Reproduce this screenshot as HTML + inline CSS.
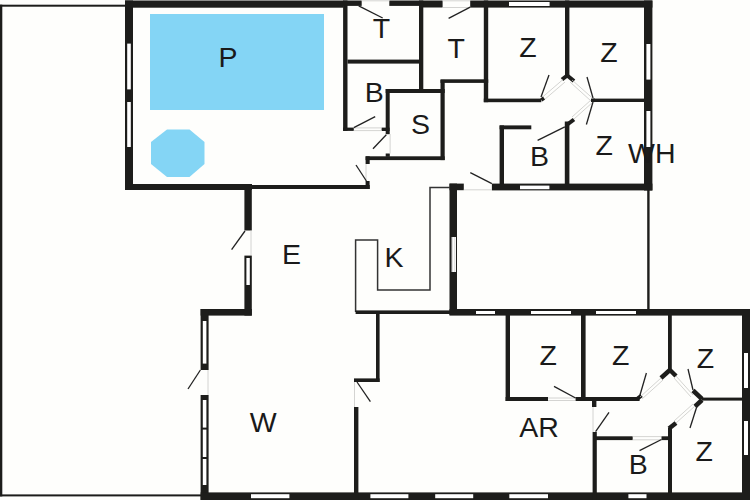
<!DOCTYPE html>
<html><head><meta charset="utf-8"><style>
html,body{margin:0;padding:0;background:#fefefc;}
body{width:750px;height:500px;overflow:hidden;}
svg{display:block;}
text{font-family:"Liberation Sans",sans-serif;fill:#1a1a1a;}
</style></head><body>
<svg width="750" height="500" viewBox="0 0 750 500">
<rect x="0" y="0" width="750" height="500" fill="#fefefc"/>
<rect x="0" y="4.7" width="125" height="2" fill="#1d1d1b"/>
<rect x="0" y="4.7" width="2.3" height="491.7" fill="#1d1d1b"/>
<rect x="0" y="494.4" width="201" height="2" fill="#1d1d1b"/>
<rect x="150" y="14" width="174" height="96" fill="#84d5f5"/>
<polygon points="167,129.6 189.5,129.6 204.5,142 204.5,164 189.5,177 167,177 151,164 151,142" fill="#84d5f5"/>
<rect x="125" y="0.5" width="218.6" height="7.2" fill="#1d1d1b"/>
<rect x="125" y="0.5" width="8" height="189.5" fill="#1d1d1b"/>
<rect x="127.2" y="43.6" width="3.6" height="45.8" fill="#fff"/>
<rect x="127.2" y="102" width="3.6" height="45" fill="#fff"/>
<rect x="125" y="184" width="127" height="6" fill="#1d1d1b"/>
<rect x="252" y="185" width="117.7" height="4" fill="#1d1d1b"/>
<rect x="343.1" y="0.5" width="4.4" height="130.4" fill="#1d1d1b"/>
<rect x="343.1" y="0.5" width="18.6" height="5.4" fill="#1d1d1b"/>
<rect x="389.3" y="0.5" width="31.7" height="5.4" fill="#1d1d1b"/>
<rect x="421" y="0.5" width="21.6" height="7" fill="#1d1d1b"/>
<rect x="419" y="0.5" width="4.3" height="92.5" fill="#1d1d1b"/>
<rect x="347.5" y="59.6" width="71.5" height="4" fill="#1d1d1b"/>
<rect x="343.1" y="127.6" width="10.7" height="3.3" fill="#1d1d1b"/>
<rect x="381.6" y="127.6" width="8" height="3.4" fill="#1d1d1b"/>
<rect x="385.7" y="89" width="4" height="45.2" fill="#1d1d1b"/>
<rect x="385.7" y="89" width="59" height="4" fill="#1d1d1b"/>
<rect x="440.5" y="79.9" width="4.2" height="80.2" fill="#1d1d1b"/>
<rect x="440.5" y="79.3" width="47.7" height="3.6" fill="#1d1d1b"/>
<rect x="385.7" y="153.5" width="4.1" height="3.3" fill="#1d1d1b"/>
<rect x="365.6" y="156.3" width="79.1" height="3.8" fill="#1d1d1b"/>
<rect x="365.6" y="156.3" width="4.1" height="7.7" fill="#1d1d1b"/>
<rect x="365.6" y="181" width="4" height="8" fill="#1d1d1b"/>
<line x1="361.7" y1="0.8" x2="389.3" y2="0.8" stroke="#c9c9c6" stroke-width="0.8"/>
<line x1="442.6" y1="0.8" x2="470.2" y2="0.8" stroke="#c9c9c6" stroke-width="0.8"/>
<line x1="442.6" y1="7.5" x2="470.2" y2="7.5" stroke="#c9c9c6" stroke-width="0.8"/>
<line x1="353.8" y1="127.9" x2="381.6" y2="127.9" stroke="#c9c9c6" stroke-width="0.8"/>
<line x1="353.8" y1="130.6" x2="381.6" y2="130.6" stroke="#c9c9c6" stroke-width="0.8"/>
<line x1="390.1" y1="134" x2="390.1" y2="153.5" stroke="#c9c9c6" stroke-width="0.8"/>
<line x1="366" y1="164" x2="366" y2="181" stroke="#c9c9c6" stroke-width="0.8"/>
<line x1="358.7" y1="5.9" x2="382.7" y2="18" stroke="#222" stroke-width="1.3"/>
<line x1="470.2" y1="7.2" x2="448.6" y2="18.4" stroke="#222" stroke-width="1.3"/>
<line x1="353.8" y1="127.6" x2="375.2" y2="116.6" stroke="#222" stroke-width="1.3"/>
<line x1="386.3" y1="134.8" x2="373" y2="148.8" stroke="#222" stroke-width="1.3"/>
<line x1="366.4" y1="181" x2="356" y2="165" stroke="#222" stroke-width="1.3"/>
<rect x="470.2" y="0.5" width="182.2" height="7.1" fill="#1d1d1b"/>
<rect x="509" y="2" width="40.6" height="4" fill="#fff"/>
<rect x="483.8" y="0.5" width="4.4" height="101.7" fill="#1d1d1b"/>
<rect x="483.8" y="98.6" width="57.5" height="3.6" fill="#1d1d1b"/>
<rect x="565" y="0.5" width="4.4" height="76" fill="#1d1d1b"/>
<rect x="593" y="98.6" width="51" height="3.4" fill="#1d1d1b"/>
<rect x="644" y="0.5" width="8.4" height="190" fill="#1d1d1b"/>
<rect x="646.4" y="44" width="4" height="35.6" fill="#fff"/>
<rect x="646.4" y="111" width="4" height="36" fill="#fff"/>
<line x1="562" y1="79.5" x2="567.2" y2="75.5" stroke="#1d1d1b" stroke-width="4"/>
<line x1="567.2" y1="75.5" x2="574" y2="81" stroke="#1d1d1b" stroke-width="4"/>
<line x1="542" y1="97.5" x2="563" y2="79.5" stroke="#c9c9c6" stroke-width="0.8"/>
<line x1="544" y1="100" x2="565" y2="82" stroke="#c9c9c6" stroke-width="0.8"/>
<line x1="572" y1="80" x2="593" y2="98.6" stroke="#c9c9c6" stroke-width="0.8"/>
<line x1="570" y1="82" x2="591" y2="101" stroke="#c9c9c6" stroke-width="0.8"/>
<line x1="541.3" y1="100" x2="544" y2="98" stroke="#1d1d1b" stroke-width="3.5"/>
<line x1="591" y1="100.3" x2="595" y2="100.3" stroke="#1d1d1b" stroke-width="3.5"/>
<line x1="593" y1="102" x2="574" y2="119" stroke="#c9c9c6" stroke-width="0.8"/>
<line x1="591" y1="100" x2="572" y2="117" stroke="#c9c9c6" stroke-width="0.8"/>
<line x1="574" y1="119.5" x2="566" y2="125.5" stroke="#1d1d1b" stroke-width="4"/>
<line x1="541" y1="97" x2="549" y2="75" stroke="#222" stroke-width="1.3"/>
<line x1="593" y1="98" x2="587" y2="77" stroke="#222" stroke-width="1.3"/>
<line x1="593" y1="102" x2="586.4" y2="124.5" stroke="#222" stroke-width="1.3"/>
<line x1="537.6" y1="140.4" x2="564.8" y2="126.8" stroke="#222" stroke-width="1.3"/>
<rect x="499.6" y="125.4" width="31.7" height="3.9" fill="#1d1d1b"/>
<rect x="499.6" y="125.4" width="4.4" height="58.6" fill="#1d1d1b"/>
<rect x="564.8" y="121.5" width="4.6" height="62.5" fill="#1d1d1b"/>
<rect x="449.5" y="183.6" width="14.3" height="6.6" fill="#1d1d1b"/>
<rect x="491.9" y="183.6" width="160.5" height="6.8" fill="#1d1d1b"/>
<rect x="520" y="185.6" width="29.4" height="3.6" fill="#fff"/>
<line x1="470.3" y1="172.7" x2="491.9" y2="183.6" stroke="#222" stroke-width="1.3"/>
<line x1="463.8" y1="189.8" x2="491.9" y2="189.8" stroke="#c9c9c6" stroke-width="0.8"/>
<rect x="647.2" y="190" width="2.4" height="119" fill="#1d1d1b"/>
<rect x="449.5" y="183.6" width="7.5" height="131.4" fill="#1d1d1b"/>
<rect x="451.6" y="237" width="4.4" height="35" fill="#fff"/>
<line x1="452.6" y1="237" x2="452.6" y2="272" stroke="#c9c9c6" stroke-width="0.7"/>
<line x1="454.8" y1="237" x2="454.8" y2="272" stroke="#c9c9c6" stroke-width="0.7"/>
<polyline points="450,187.4 430,187.4 430,290 377.6,290 377.6,240 355.6,240 355.6,312" fill="none" stroke="#333" stroke-width="1.5"/>
<rect x="355.6" y="310.4" width="94.4" height="3.6" fill="#1d1d1b"/>
<rect x="244.4" y="190" width="7.4" height="40.5" fill="#1d1d1b"/>
<line x1="251" y1="230.5" x2="251" y2="255.6" stroke="#c9c9c6" stroke-width="0.8"/>
<line x1="245" y1="231" x2="231.6" y2="249.6" stroke="#222" stroke-width="1.3"/>
<rect x="244.4" y="255.6" width="7.4" height="60" fill="#1d1d1b"/>
<rect x="246.4" y="258" width="3.4" height="27" fill="#fff"/>
<rect x="200.6" y="309" width="51.2" height="6.6" fill="#1d1d1b"/>
<rect x="200.6" y="309" width="8" height="61" fill="#1d1d1b"/>
<rect x="202.8" y="321" width="3.6" height="42.6" fill="#fff"/>
<line x1="208" y1="370" x2="208" y2="395" stroke="#c9c9c6" stroke-width="0.8"/>
<line x1="200.4" y1="370" x2="188" y2="389" stroke="#222" stroke-width="1.3"/>
<rect x="200.6" y="395" width="8" height="105" fill="#1d1d1b"/>
<rect x="202.8" y="400" width="3.6" height="27.6" fill="#fff"/>
<rect x="202.8" y="429.6" width="3.6" height="27.4" fill="#fff"/>
<rect x="202.8" y="459" width="3.6" height="26" fill="#fff"/>
<rect x="200.6" y="492.4" width="549.4" height="7.6" fill="#1d1d1b"/>
<rect x="251" y="494.2" width="38.4" height="4" fill="#fff"/>
<rect x="370.4" y="494.2" width="38" height="4" fill="#fff"/>
<rect x="435.2" y="494.2" width="38" height="4" fill="#fff"/>
<rect x="509.3" y="494.2" width="38.7" height="4" fill="#fff"/>
<rect x="628.4" y="494.2" width="18.1" height="4" fill="#fff"/>
<rect x="376" y="314" width="3.6" height="68" fill="#1d1d1b"/>
<rect x="354" y="378.4" width="25.6" height="3.6" fill="#1d1d1b"/>
<line x1="354.5" y1="382" x2="354.5" y2="407" stroke="#c9c9c6" stroke-width="0.8"/>
<line x1="357" y1="382" x2="370.4" y2="401.6" stroke="#222" stroke-width="1.3"/>
<rect x="354" y="407" width="4.4" height="93" fill="#1d1d1b"/>
<rect x="449.5" y="309" width="300.5" height="6.6" fill="#1d1d1b"/>
<rect x="476" y="311" width="19" height="3" fill="#fff"/>
<rect x="531" y="311" width="40" height="3" fill="#fff"/>
<rect x="596" y="311" width="40" height="3" fill="#fff"/>
<rect x="742" y="309" width="8" height="191" fill="#1d1d1b"/>
<rect x="744" y="353" width="4" height="35" fill="#fff"/>
<rect x="744" y="421" width="4" height="34" fill="#fff"/>
<rect x="505.6" y="315" width="4.4" height="86" fill="#1d1d1b"/>
<rect x="581" y="315" width="4.6" height="86" fill="#1d1d1b"/>
<rect x="668" y="315" width="3.8" height="55" fill="#1d1d1b"/>
<rect x="505.6" y="397" width="42.4" height="4" fill="#1d1d1b"/>
<line x1="548" y1="398" x2="575.6" y2="398" stroke="#c9c9c6" stroke-width="0.8"/>
<line x1="548" y1="400.5" x2="575.6" y2="400.5" stroke="#c9c9c6" stroke-width="0.8"/>
<rect x="575.6" y="397" width="64" height="4" fill="#1d1d1b"/>
<line x1="554" y1="386.4" x2="575.6" y2="398" stroke="#222" stroke-width="1.3"/>
<line x1="640" y1="395" x2="646.4" y2="373" stroke="#222" stroke-width="1.3"/>
<line x1="661" y1="378" x2="669.9" y2="370" stroke="#1d1d1b" stroke-width="4.5"/>
<line x1="669.9" y1="370" x2="676" y2="376" stroke="#1d1d1b" stroke-width="4.5"/>
<line x1="637" y1="399" x2="641.5" y2="395.5" stroke="#1d1d1b" stroke-width="4"/>
<line x1="661" y1="378" x2="640" y2="397" stroke="#c9c9c6" stroke-width="0.8"/>
<line x1="663" y1="380" x2="642" y2="399" stroke="#c9c9c6" stroke-width="0.8"/>
<line x1="676" y1="376" x2="693" y2="395" stroke="#c9c9c6" stroke-width="0.8"/>
<line x1="674" y1="378" x2="691" y2="397" stroke="#c9c9c6" stroke-width="0.8"/>
<line x1="693" y1="390" x2="688" y2="369" stroke="#222" stroke-width="1.3"/>
<rect x="702" y="397.6" width="40" height="3" fill="#1d1d1b"/>
<line x1="693" y1="390.5" x2="702" y2="399" stroke="#1d1d1b" stroke-width="4.5"/>
<line x1="702" y1="400" x2="695" y2="406.5" stroke="#1d1d1b" stroke-width="4.5"/>
<line x1="695" y1="406" x2="676" y2="423" stroke="#c9c9c6" stroke-width="0.8"/>
<line x1="693" y1="404" x2="674" y2="421" stroke="#c9c9c6" stroke-width="0.8"/>
<line x1="676" y1="423" x2="669" y2="428.5" stroke="#1d1d1b" stroke-width="4.5"/>
<rect x="668" y="427.7" width="4" height="72.3" fill="#1d1d1b"/>
<line x1="697" y1="406" x2="690" y2="428" stroke="#222" stroke-width="1.3"/>
<rect x="592" y="401" width="4.4" height="6" fill="#1d1d1b"/>
<line x1="593" y1="407" x2="593" y2="432" stroke="#c9c9c6" stroke-width="0.8"/>
<line x1="595.6" y1="431.6" x2="609" y2="412.4" stroke="#222" stroke-width="1.3"/>
<rect x="592.6" y="432" width="4.2" height="68" fill="#1d1d1b"/>
<rect x="594" y="436.3" width="38.7" height="3.8" fill="#1d1d1b"/>
<line x1="632.7" y1="436.6" x2="661.5" y2="436.6" stroke="#c9c9c6" stroke-width="0.8"/>
<line x1="632.7" y1="439.8" x2="661.5" y2="439.8" stroke="#c9c9c6" stroke-width="0.8"/>
<rect x="661.5" y="436.3" width="10.5" height="3.8" fill="#1d1d1b"/>
<line x1="639.5" y1="450.6" x2="661.5" y2="439.5" stroke="#222" stroke-width="1.3"/>
<text x="227.9" y="67" text-anchor="middle" font-size="28.5" fill="#13202c">P</text>
<text x="381.5" y="38.4" text-anchor="middle" font-size="28.5">T</text>
<text x="456.2" y="58" text-anchor="middle" font-size="28.5">T</text>
<text x="528" y="57.4" text-anchor="middle" font-size="28.5">Z</text>
<text x="609" y="62.4" text-anchor="middle" font-size="28.5">Z</text>
<text x="374.2" y="102.4" text-anchor="middle" font-size="28.5">B</text>
<text x="420.5" y="133.5" text-anchor="middle" font-size="28.5">S</text>
<text x="539.4" y="166" text-anchor="middle" font-size="28.5">B</text>
<text x="604.2" y="155" text-anchor="middle" font-size="28.5">Z</text>
<text x="651.85" y="162.8" text-anchor="middle" font-size="28.5">WH</text>
<text x="291.6" y="263.6" text-anchor="middle" font-size="28.5">E</text>
<text x="394" y="267" text-anchor="middle" font-size="28.5">K</text>
<text x="263.2" y="432" text-anchor="middle" font-size="28.5">W</text>
<text x="539" y="437" text-anchor="middle" font-size="28.5">AR</text>
<text x="548.1" y="364.9" text-anchor="middle" font-size="28.5">Z</text>
<text x="620.7" y="364.9" text-anchor="middle" font-size="28.5">Z</text>
<text x="705.5" y="367.8" text-anchor="middle" font-size="28.5">Z</text>
<text x="638.3" y="474.2" text-anchor="middle" font-size="28.5">B</text>
<text x="704.1" y="461.2" text-anchor="middle" font-size="28.5">Z</text>
</svg>
</body></html>
